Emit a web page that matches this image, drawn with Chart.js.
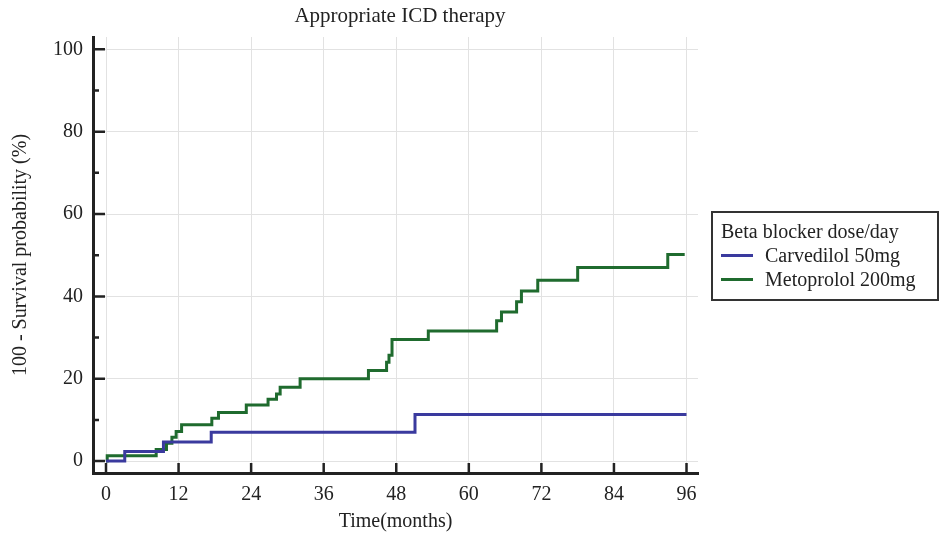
<!DOCTYPE html>
<html>
<head>
<meta charset="utf-8">
<script src="https://cdn.jsdelivr.net/npm/chart.js@4"></script>
<style>
  body { margin: 0; background: #fff; }
  #wrap { position: relative; width: 940px; height: 536px; font-family: "Liberation Serif", serif; color: #222; }
  #title { position: absolute; left: 200px; width: 400px; top: 3px; text-align: center; font-size: 21px; line-height: 24px; }
  #legend { position: absolute; left: 711px; top: 211px; width: 224px; height: 86px; border: 2px solid #333; font-size: 20px; }
  #legend .t { position: absolute; left: 8px; top: 7px; white-space: nowrap; }
  #legend .row { position: absolute; left: 8px; white-space: nowrap; }
  #legend .sw { display: inline-block; width: 32px; height: 3px; vertical-align: middle; margin-right: 12px; position: relative; top: -2px; }
</style>
</head>
<body>
<div id="wrap">
  <canvas id="km" width="940" height="536"></canvas>
  <div id="title">Appropriate ICD therapy</div>
  <div id="legend">
    <div class="t">Beta blocker dose/day</div>
    <div class="row" style="top:31px"><span class="sw" style="background:#3a3a9e"></span>Carvedilol 50mg</div>
    <div class="row" style="top:55px"><span class="sw" style="background:#1f6b2e"></span>Metoprolol 200mg</div>
  </div>
</div>
<script>
// ticks
const xTicks = [0, 12, 24, 36, 48, 60, 72, 84, 96];
const yTicks = [0, 20, 40, 60, 80, 100];
const yMinor = [10, 30, 50, 70, 90];

// Carvedilol 50mg (step curve, value after each event time)
const carvedilolTimes = [0, 3.1, 9.5, 17.4, 51.1, 96];
const carvedilolValues = [0, 2.3, 4.6, 7.0, 11.3, 11.3];

// Metoprolol 200mg
const metoprololTimes = [0, 0.2, 8.3, 10.0, 10.9, 11.6, 12.5, 17.5, 18.6, 23.2, 26.8, 28.2, 28.8, 32.1, 43.4, 46.4, 46.8, 47.3, 53.3, 64.6, 65.4, 67.9, 68.7, 71.4, 78.0, 92.9, 95.7];
const metoprololValues = [0, 1.3, 2.8, 4.3, 5.8, 7.2, 8.8, 10.4, 11.8, 13.6, 15.0, 16.3, 17.9, 20.0, 22.0, 24.0, 25.7, 29.5, 31.6, 34.1, 36.2, 38.7, 41.3, 43.9, 47.0, 50.2, 50.2];

const toPoints = (xs, ys) => xs.map((x, i) => ({ x: x, y: ys[i] }));

// inward tick marks on the spines
const innerTicks = {
  id: "innerTicks",
  afterDraw(chart) {
    const { ctx, scales: { x, y }, chartArea } = chart;
    ctx.save();
    ctx.strokeStyle = "#222";
    ctx.lineWidth = 2.5;
    ctx.beginPath();
    xTicks.forEach((v) => {
      const px = x.getPixelForValue(v);
      ctx.moveTo(px, chartArea.bottom);
      ctx.lineTo(px, chartArea.bottom - 10);
    });
    yTicks.forEach((v) => {
      const py = y.getPixelForValue(v);
      ctx.moveTo(chartArea.left, py);
      ctx.lineTo(chartArea.left + 12, py);
    });
    yMinor.forEach((v) => {
      const py = y.getPixelForValue(v);
      ctx.moveTo(chartArea.left, py);
      ctx.lineTo(chartArea.left + 6, py);
    });
    ctx.stroke();
    ctx.restore();
  },
};

new Chart(document.getElementById("km"), {
  type: "line",
  data: {
    datasets: [
      {
        label: "Carvedilol 50mg",
        data: toPoints(carvedilolTimes, carvedilolValues),
        borderColor: "#3a3a9e",
        borderWidth: 3,
        stepped: true,
        pointRadius: 0,
        fill: false,
      },
      {
        label: "Metoprolol 200mg",
        data: toPoints(metoprololTimes, metoprololValues),
        borderColor: "#1f6b2e",
        borderWidth: 3,
        stepped: true,
        pointRadius: 0,
        fill: false,
      },
    ],
  },
  options: {
    responsive: false,
    animation: false,
    layout: { padding: { top: 37, right: 242, left: 0, bottom: 0 } },
    plugins: {
      legend: { display: false },
      tooltip: { enabled: false },
    },
    scales: {
      x: {
        type: "linear",
        min: -2.15,
        max: 97.9,
        afterBuildTicks: (s) => { s.ticks = xTicks.map((v) => ({ value: v })); },
        afterFit: (s) => { s.height = 63; },
        grid: { color: "#e2e2e2", lineWidth: 1, drawTicks: false },
        border: { display: true, color: "#222", width: 3 },
        ticks: { color: "#222", padding: 10, maxRotation: 0, font: { family: "Liberation Serif", size: 20 } },
        title: { display: true, text: "Time(months)", color: "#222", padding: { top: 0, bottom: 2 }, font: { family: "Liberation Serif", size: 20 } },
      },
      y: {
        min: -2.9,
        max: 103,
        afterBuildTicks: (s) => { s.ticks = yTicks.map((v) => ({ value: v })); },
        afterFit: (s) => { s.width = 93; },
        grid: { color: "#e2e2e2", lineWidth: 1, drawTicks: false },
        border: { display: true, color: "#222", width: 3 },
        ticks: { color: "#222", padding: 10, font: { family: "Liberation Serif", size: 20 } },
        title: { display: true, text: "100 - Survival probability (%)", color: "#222", padding: { top: 9, bottom: 0 }, font: { family: "Liberation Serif", size: 20 } },
      },
    },
  },
  plugins: [innerTicks],
});
</script>
</body>
</html>
